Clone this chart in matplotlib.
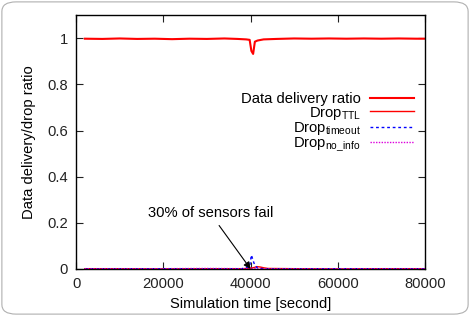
import numpy as np
import matplotlib
matplotlib.use("Agg")
import matplotlib.pyplot as plt
from matplotlib.patches import FancyBboxPatch

plt.rcParams['font.family'] = ['Liberation Sans', 'DejaVu Sans']
plt.rcParams['mathtext.fontset'] = 'custom'
plt.rcParams['mathtext.rm'] = 'Liberation Sans'
plt.rcParams['mathtext.it'] = 'Liberation Sans'

# Datos
t_ratio = [2000, 6000, 10000, 14000, 18000, 22000, 26000, 30000, 34000, 37000,
           39000, 39800, 40200, 40600, 41000, 41600, 43000, 46000, 50000, 54000,
           58000, 62000, 66000, 70000, 74000, 78000, 80000]
ratio = [0.998, 0.997, 0.999, 0.997, 0.998, 0.996, 0.998, 0.997, 0.999, 0.997,
         0.995, 0.993, 0.945, 0.932, 0.985, 0.990, 0.995, 0.997, 0.999, 0.998,
         0.999, 0.998, 0.999, 0.998, 0.999, 0.998, 0.998]

t_drop = [2000, 10000, 20000, 30000, 38000, 39800, 40200, 40800, 41500, 42300,
          43000, 44000, 50000, 60000, 70000, 80000]
drop_ttl = [0.001, 0.001, 0.0, 0.001, 0.001, 0.002, 0.004, 0.006, 0.010, 0.008,
            0.005, 0.002, 0.001, 0.0, 0.001, 0.001]
drop_timeout = [0.0, 0.0, 0.001, 0.0, 0.001, 0.010, 0.060, 0.025, 0.005, 0.002,
                0.001, 0.0, 0.0, 0.001, 0.0, 0.0]
drop_noinfo = [0.001, 0.001, 0.001, 0.002, 0.001, 0.002, 0.003, 0.002, 0.002, 0.001,
               0.001, 0.001, 0.001, 0.001, 0.001, 0.001]

fs = 10.6

fig = plt.figure(figsize=(4.7, 3.16), dpi=100)
fig.patches.append(FancyBboxPatch((0.004, 0.006), 0.992, 0.988,
                                  boxstyle="round,pad=0,rounding_size=0.03",
                                  transform=fig.transFigure, fill=False,
                                  edgecolor='#b0b0b0', linewidth=0.8))
ax = fig.add_axes([0.162, 0.149, 0.742, 0.803])

ax.plot(t_ratio, ratio, color='#ff0000', lw=1.5, label="Data delivery ratio")
ax.plot(t_drop, drop_ttl, color='#ff0000', lw=1.0, label="Drop$_{\\mathrm{TTL}}$")
ax.plot(t_drop, drop_timeout, color='#0000ff', lw=1.0, ls=(0, (2, 2)),
        label="Drop$_{\\mathrm{timeout}}$")
ax.plot(t_drop, drop_noinfo, color='#dd00dd', lw=1.0, ls=(0, (1, 1)),
        label="Drop$_{\\mathrm{no\\_info}}$")

ax.set_xlim(0, 80000)
ax.set_ylim(0, 1.1)
ax.set_xticks([0, 20000, 40000, 60000, 80000])
ax.set_yticks([0, 0.2, 0.4, 0.6, 0.8, 1])
ax.set_yticklabels(['0', '0.2', '0.4', '0.6', '0.8', '1'])
ax.tick_params(direction='in', length=5, width=0.8, top=True, right=True,
               labelsize=fs, pad=6, colors='#222222')
for s in ax.spines.values():
    s.set_linewidth(1.0)

ax.set_xlabel("Simulation time [second]", fontsize=fs, labelpad=4)
ax.set_ylabel("Data delivery/drop ratio", fontsize=fs, labelpad=8)

ax.annotate("30% of sensors fail", xy=(40000, 0.0), xytext=(30800, 0.21),
            ha='center', va='bottom', fontsize=fs,
            arrowprops=dict(arrowstyle='-|>', color='black', lw=0.8,
                            shrinkA=2, shrinkB=0, mutation_scale=10))

ax.legend(loc='upper right', bbox_to_anchor=(0.985, 0.72), frameon=False,
          markerfirst=False, fontsize=fs, handlelength=3.0, handletextpad=0.6,
          labelspacing=-0.1, borderaxespad=0)

fig.savefig("out.png", dpi=100)
